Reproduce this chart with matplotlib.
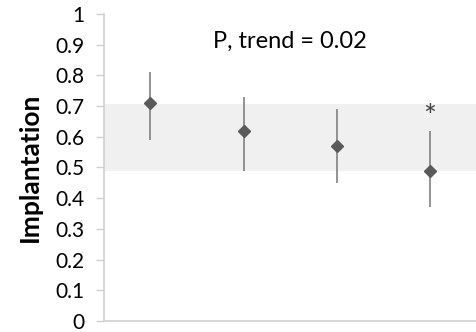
import numpy as np
import matplotlib
matplotlib.use("Agg")
import matplotlib.pyplot as plt

plt.rcParams['font.family'] = ['Lato', 'DejaVu Sans']

groups = [1, 2, 3, 4]
means = [0.71, 0.62, 0.57, 0.49]
upper = [0.81, 0.73, 0.69, 0.62]
lower = [0.59, 0.49, 0.45, 0.37]
band = (0.49, 0.707)
yticks = [0, 0.1, 0.2, 0.3, 0.4, 0.5, 0.6, 0.7, 0.8, 0.9, 1]
ytick_labels = ["0", "0.1", "0.2", "0.3", "0.4", "0.5", "0.6", "0.7", "0.8", "0.9", "1"]

means = np.array(means)
yerr = [means - np.array(lower), np.array(upper) - means]

fig = plt.figure(figsize=(4.77, 3.32), dpi=100)
ax = fig.add_axes([0.218, 0.033, 0.78, 0.925])

ax.axhspan(band[0], band[1], color="#f0f0f0", zorder=0, lw=0)
ax.errorbar(groups, means, yerr=yerr, fmt="D", color="#5a5a5a", ecolor="#8a8a8a",
            elinewidth=1.3, markersize=6, capsize=0, zorder=3)

# significance marker above last group
ax.text(4, 0.665, "*", ha="center", va="center", fontsize=22, color="#444444")
ax.text(2.5, 0.912, "P, trend = 0.02", ha="center", va="center", fontsize=17)

ax.set_xlim(0.5, 4.5)
ax.set_ylim(0, 1)
ax.set_yticks(yticks)
ax.set_yticklabels(ytick_labels, fontsize=15)
ax.set_xticks([])
ax.set_ylabel("Implantation", fontsize=19, fontweight="bold", labelpad=10)

for s in ["top", "right"]:
    ax.spines[s].set_visible(False)
for s in ["left", "bottom"]:
    ax.spines[s].set_color("#d0d0d0")
    ax.spines[s].set_linewidth(1.2)
ax.tick_params(axis="y", length=6, color="#d0d0d0", width=1, pad=8)

fig.savefig("out.png", dpi=100)
